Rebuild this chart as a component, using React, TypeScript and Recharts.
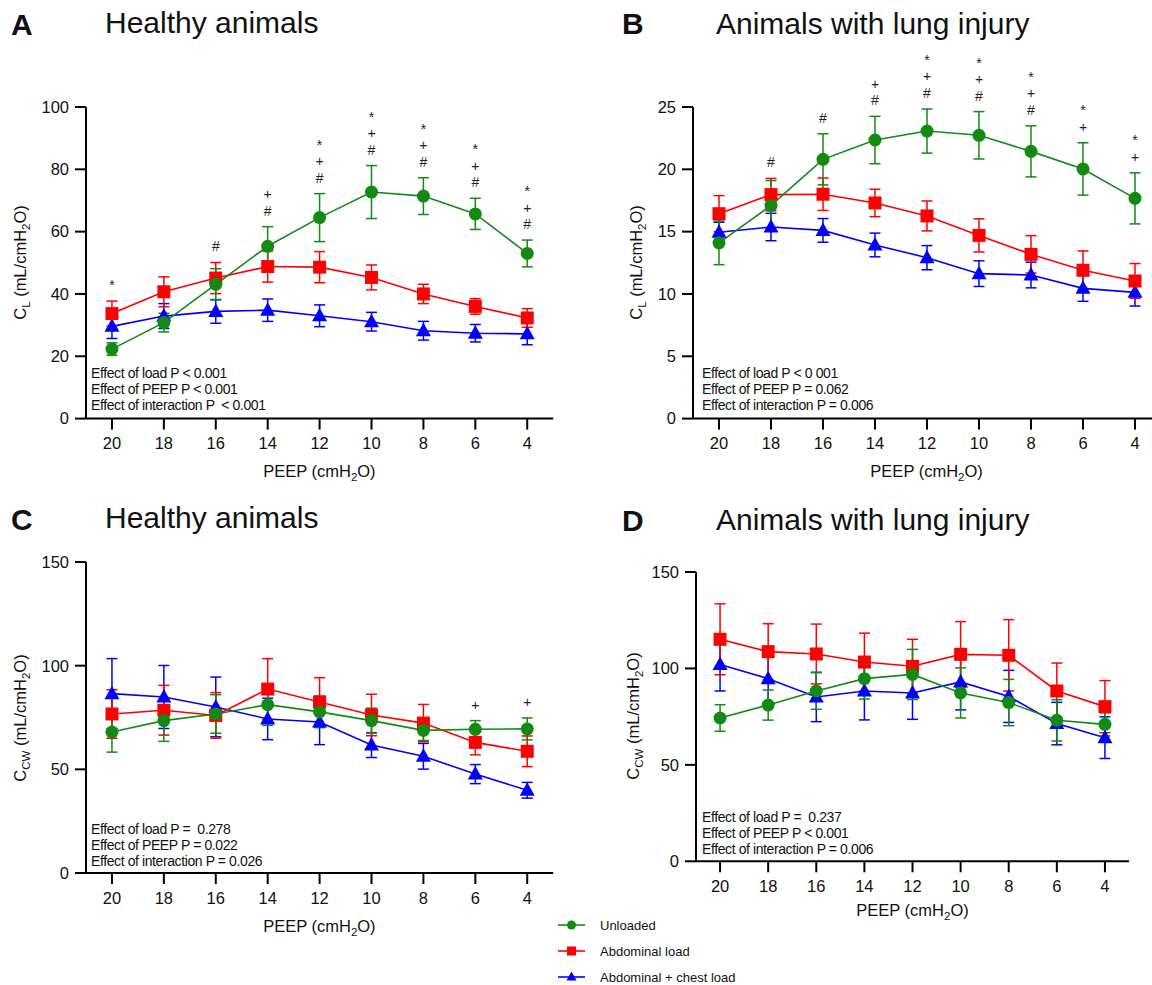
import React from "react";
import { ComposedChart, Line, XAxis, YAxis, ErrorBar } from "recharts";

const FONT = '"Liberation Sans", Arial, Helvetica, sans-serif';
const GREEN = "#138a13";
const RED = "#ff0000";
const BLUE = "#0000ff";
const INK = "#111";

// PEEP steps (cmH2O), decremental
const peep = [20, 18, 16, 14, 12, 10, 8, 6, 4];

// A – lung compliance, healthy animals
const aUnloaded = [22.3, 30.8, 43.1, 55.3, 64.5, 72.7, 71.4, 65.7, 53.0];
const aUnloadedSd = [2, 3, 5, 6.3, 7.7, 8.5, 5.9, 5, 4.3];
const aAbdominal = [33.7, 40.7, 45.1, 48.8, 48.6, 45.3, 40.0, 36.0, 32.3];
const aAbdominalSd = [4, 4.8, 5, 5, 5, 4, 3.1, 2.5, 3];
const aChest = [29.6, 32.9, 34.4, 34.8, 33.0, 31.1, 28.2, 27.4, 27.2];
const aChestSd = [3.9, 4, 3.8, 3.6, 3.5, 3, 3, 2.8, 3.5];
const aMarks = ["*", "", "#", "+#", "*+#", "*+#", "*+#", "*+#", "*+#"];
const aStats = ["Effect of load P < 0.001", "Effect of PEEP P < 0.001", "Effect of interaction P  < 0.001"];

// B – lung compliance, animals with lung injury
const bUnloaded = [14.1, 17.1, 20.8, 22.35, 23.07, 22.73, 21.44, 20.03, 17.67];
const bUnloadedSd = [1.75, 2, 2.05, 1.9, 1.77, 1.9, 2.05, 2.1, 2.05];
const bAbdominal = [16.44, 17.97, 18.0, 17.3, 16.26, 14.7, 13.18, 11.9, 11.04];
const bAbdominalSd = [1.45, 1.3, 1.3, 1.1, 1.2, 1.33, 1.5, 1.55, 1.4];
const bChest = [14.95, 15.37, 15.1, 13.93, 12.91, 11.63, 11.52, 10.45, 10.13];
const bChestSd = [0.8, 1.1, 0.95, 0.95, 0.97, 1.03, 1.03, 1.04, 1.1];
const bMarks = ["", "#", "#", "+#", "*+#", "*+#", "*+#", "*+", "*+"];
const bStats = ["Effect of load P < 0 001", "Effect of PEEP P = 0.062", "Effect of interaction P = 0.006"];

// C – chest wall compliance, healthy animals
const cUnloaded = [68.0, 73.5, 76.7, 81.2, 77.7, 73.5, 68.8, 69.3, 69.5];
const cUnloadedSd = [9.7, 10, 9.3, 10, 7.6, 6, 4.9, 4.2, 5.3];
const cAbdominal = [76.7, 78.5, 76.0, 88.7, 82.5, 76.2, 72.3, 63.0, 58.7];
const cAbdominalSd = [11.7, 12, 11, 14.7, 11.7, 10, 9, 6, 7.4];
const cChest = [86.5, 84.9, 80.1, 74.3, 72.8, 61.7, 56.3, 47.7, 39.9];
const cChestSd = [16.9, 15.2, 14.4, 10, 10.9, 6, 6.2, 4.6, 3.8];
const cMarks = ["", "", "", "", "", "", "", "+", "+"];
const cStats = ["Effect of load P =  0.278", "Effect of PEEP P = 0.022", "Effect of interaction P = 0.026"];

// D – chest wall compliance, animals with lung injury
const dUnloaded = [74.3, 81.0, 88.3, 94.7, 96.9, 87.3, 82.3, 73.1, 71.0];
const dUnloadedSd = [6.9, 7.8, 9.5, 10.6, 13, 13, 12, 10.7, 6];
const dAbdominal = [115.1, 108.7, 107.5, 103.3, 101.1, 107.3, 106.8, 88.3, 80.2];
const dAbdominalSd = [18.4, 14.5, 15.5, 15, 14, 17, 18.5, 14.5, 13.5];
const dChest = [102.0, 94.7, 85.2, 88.3, 87.3, 93.0, 85.5, 71.4, 64.1];
const dChestSd = [13.7, 13, 12.8, 15, 13.7, 14.5, 13.5, 11, 10.8];
const dMarks = ["", "", "", "", "", "", "", "", ""];
const dStats = ["Effect of load P =  0.237", "Effect of PEEP P < 0.001", "Effect of interaction P = 0.006"];

const legendLabels = ["Unloaded", "Abdominal load", "Abdominal + chest load"];

const buildRows = (u, uSd, a, aSd, c, cSd, marks) =>
  peep.map((p, i) => ({
    peep: p,
    u: u[i],
    uSd: uSd[i],
    a: a[i],
    aSd: aSd[i],
    c: c[i],
    cSd: cSd[i],
    top: Math.max(u[i] + uSd[i], a[i] + aSd[i], c[i] + cSd[i]),
    mark: marks[i],
  }));

// marker shapes
const circleDot = (props) => (
  <circle key={`ci-${props.index}`} cx={props.cx} cy={props.cy} r={6.5} fill={GREEN} />
);
const squareDot = (props) => (
  <rect key={`sq-${props.index}`} x={props.cx - 6.5} y={props.cy - 6.5} width={13} height={13} fill={RED} />
);
const triangleDot = (props) => (
  <path
    key={`tr-${props.index}`}
    d={`M${props.cx},${props.cy - 8} L${props.cx + 7.5},${props.cy + 5.5} L${props.cx - 7.5},${props.cy + 5.5} Z`}
    fill={BLUE}
  />
);

// significance symbols stacked above the highest error bar
const AnnotDot = (props) => {
  const { cx, cy, payload, index } = props;
  const marks = (payload.mark || "").split("");
  if (!marks.length) return <g key={`an-${index}`} />;
  const n = marks.length;
  return (
    <g key={`an-${index}`}>
      {marks.map((m, j) => (
        <text
          key={j}
          x={cx}
          y={cy - 11 - (n - 1 - j) * 16.5}
          textAnchor="middle"
          fontSize={14}
          fill="#222"
          fontFamily={FONT}
        >
          {m}
        </text>
      ))}
    </g>
  );
};

const YW = 80;
const HEAD = 70;
const FOOT = 60;

const Panel = ({ plot, yMax, yTicks, rows }) => {
  const left = plot.left - YW;
  const top = plot.top - HEAD;
  const width = plot.right - plot.left + YW + 10;
  const height = plot.bottom - plot.top + HEAD + FOOT;
  return (
    <div style={{ position: "absolute", left, top, width, height }}>
      <ComposedChart
        width={width}
        height={height}
        data={rows}
        margin={{ top: HEAD, right: 10, bottom: 0, left: 0 }}
      >
        <XAxis
          dataKey="peep"
          type="number"
          domain={[3, 21]}
          reversed
          ticks={peep}
          interval={0}
          height={FOOT}
          tickSize={11}
          tickMargin={8}
          axisLine={{ stroke: "#000", strokeWidth: 2 }}
          tickLine={{ stroke: "#000", strokeWidth: 2 }}
          tick={{ fill: INK, fontSize: 16.5, fontFamily: FONT }}
        />
        <YAxis
          type="number"
          domain={[0, yMax]}
          ticks={yTicks}
          interval={0}
          width={YW}
          tickSize={11}
          tickMargin={6}
          axisLine={{ stroke: "#000", strokeWidth: 2 }}
          tickLine={{ stroke: "#000", strokeWidth: 2 }}
          tick={{ fill: INK, fontSize: 16.5, fontFamily: FONT }}
        />
        <Line
          type="linear"
          dataKey="c"
          stroke={BLUE}
          strokeWidth={1.6}
          dot={triangleDot}
          activeDot={false}
          isAnimationActive={false}
        >
          <ErrorBar dataKey="cSd" direction="y" width={5.5} strokeWidth={1.5} stroke={BLUE} isAnimationActive={false} />
        </Line>
        <Line
          type="linear"
          dataKey="a"
          stroke={RED}
          strokeWidth={1.6}
          dot={squareDot}
          activeDot={false}
          isAnimationActive={false}
        >
          <ErrorBar dataKey="aSd" direction="y" width={5.5} strokeWidth={1.5} stroke={RED} isAnimationActive={false} />
        </Line>
        <Line
          type="linear"
          dataKey="u"
          stroke={GREEN}
          strokeWidth={1.6}
          dot={circleDot}
          activeDot={false}
          isAnimationActive={false}
        >
          <ErrorBar dataKey="uSd" direction="y" width={5.5} strokeWidth={1.5} stroke={GREEN} isAnimationActive={false} />
        </Line>
        <Line
          type="linear"
          dataKey="top"
          stroke="none"
          dot={AnnotDot}
          activeDot={false}
          legendType="none"
          isAnimationActive={false}
        />
      </ComposedChart>
    </div>
  );
};

const YTitle = ({ x, y, sub }) => (
  <text transform={`translate(${x},${y}) rotate(-90)`} textAnchor="middle" fontSize={16.5} fill={INK}>
    C<tspan dy={4} fontSize={11.5}>{sub}</tspan>
    <tspan dy={-4}> (mL/cmH</tspan>
    <tspan dy={4} fontSize={11.5}>2</tspan>
    <tspan dy={-4}>O)</tspan>
  </text>
);

const XTitle = ({ x, y }) => (
  <text x={x} y={y} textAnchor="middle" fontSize={16.5} fill={INK}>
    PEEP (cmH<tspan dy={4} fontSize={11.5}>2</tspan>
    <tspan dy={-4}>O)</tspan>
  </text>
);

const Stats = ({ x, y, lines }) => (
  <g>
    {lines.map((s, i) => (
      <text key={i} x={x} y={y + i * 16} fontSize={14} letterSpacing={-0.4} fill={INK} style={{ whiteSpace: "pre" }}>
        {s}
      </text>
    ))}
  </g>
);

const plotA = { left: 85.8, right: 553, top: 106.7, bottom: 418.3 };
const plotB = { left: 692.6, right: 1160.6, top: 106.7, bottom: 418.3 };
const plotC = { left: 85.8, right: 553, top: 562.3, bottom: 873.3 };
const plotD = { left: 696, right: 1129, top: 571.7, bottom: 861 };

export default function App() {
  const rowsA = buildRows(aUnloaded, aUnloadedSd, aAbdominal, aAbdominalSd, aChest, aChestSd, aMarks);
  const rowsB = buildRows(bUnloaded, bUnloadedSd, bAbdominal, bAbdominalSd, bChest, bChestSd, bMarks);
  const rowsC = buildRows(cUnloaded, cUnloadedSd, cAbdominal, cAbdominalSd, cChest, cChestSd, cMarks);
  const rowsD = buildRows(dUnloaded, dUnloadedSd, dAbdominal, dAbdominalSd, dChest, dChestSd, dMarks);

  const legendColors = [GREEN, RED, BLUE];

  return (
    <div
      style={{
        position: "absolute",
        left: 0,
        top: 0,
        width: 1152,
        height: 985,
        overflow: "hidden",
        background: "#fff",
        fontFamily: FONT,
      }}
    >
      <Panel plot={plotA} yMax={100} yTicks={[0, 20, 40, 60, 80, 100]} rows={rowsA} />
      <Panel plot={plotB} yMax={25} yTicks={[0, 5, 10, 15, 20, 25]} rows={rowsB} />
      <Panel plot={plotC} yMax={150} yTicks={[0, 50, 100, 150]} rows={rowsC} />
      <Panel plot={plotD} yMax={150} yTicks={[0, 50, 100, 150]} rows={rowsD} />

      <svg
        width={1152}
        height={985}
        style={{ position: "absolute", left: 0, top: 0, pointerEvents: "none" }}
        fontFamily={FONT}
      >
        {/* panel letters and titles */}
        <text x={11} y={34.5} fontSize={30} fontWeight="bold" fill={INK}>A</text>
        <text x={105} y={32.5} fontSize={30} fill={INK}>Healthy animals</text>
        <text x={622} y={33.5} fontSize={30} fontWeight="bold" fill={INK}>B</text>
        <text x={716} y={33.5} fontSize={30} fill={INK}>Animals with lung injury</text>
        <text x={11} y={530} fontSize={30} fontWeight="bold" fill={INK}>C</text>
        <text x={105} y={528} fontSize={30} fill={INK}>Healthy animals</text>
        <text x={622} y={531} fontSize={30} fontWeight="bold" fill={INK}>D</text>
        <text x={716} y={530} fontSize={30} fill={INK}>Animals with lung injury</text>

        {/* axis titles */}
        <YTitle x={26} y={262.5} sub="L" />
        <YTitle x={642} y={262.5} sub="L" />
        <YTitle x={26} y={718} sub="CW" />
        <YTitle x={638.7} y={716} sub="CW" />
        <XTitle x={319.4} y={477} />
        <XTitle x={926.6} y={477} />
        <XTitle x={319.4} y={932} />
        <XTitle x={912.5} y={916} />

        {/* statistics */}
        <Stats x={91} y={378} lines={aStats} />
        <Stats x={702} y={378} lines={bStats} />
        <Stats x={91} y={834} lines={cStats} />
        <Stats x={702} y={822} lines={dStats} />

        {/* legend */}
        {legendLabels.map((label, i) => {
          const cy = 925 + i * 26;
          const c = legendColors[i];
          return (
            <g key={label}>
              <line x1={558} x2={585} y1={cy} y2={cy} stroke={c} strokeWidth={1.6} />
              {i === 0 && <circle cx={571.5} cy={cy} r={4.5} fill={c} />}
              {i === 1 && <rect x={567} y={cy - 4.5} width={9} height={9} fill={c} />}
              {i === 2 && <path d={`M571.5,${cy - 5.5} L576.5,${cy + 3.5} L566.5,${cy + 3.5} Z`} fill={c} />}
              <text x={600} y={cy + 4.5} fontSize={13} fill={INK}>{label}</text>
            </g>
          );
        })}
      </svg>
    </div>
  );
}
